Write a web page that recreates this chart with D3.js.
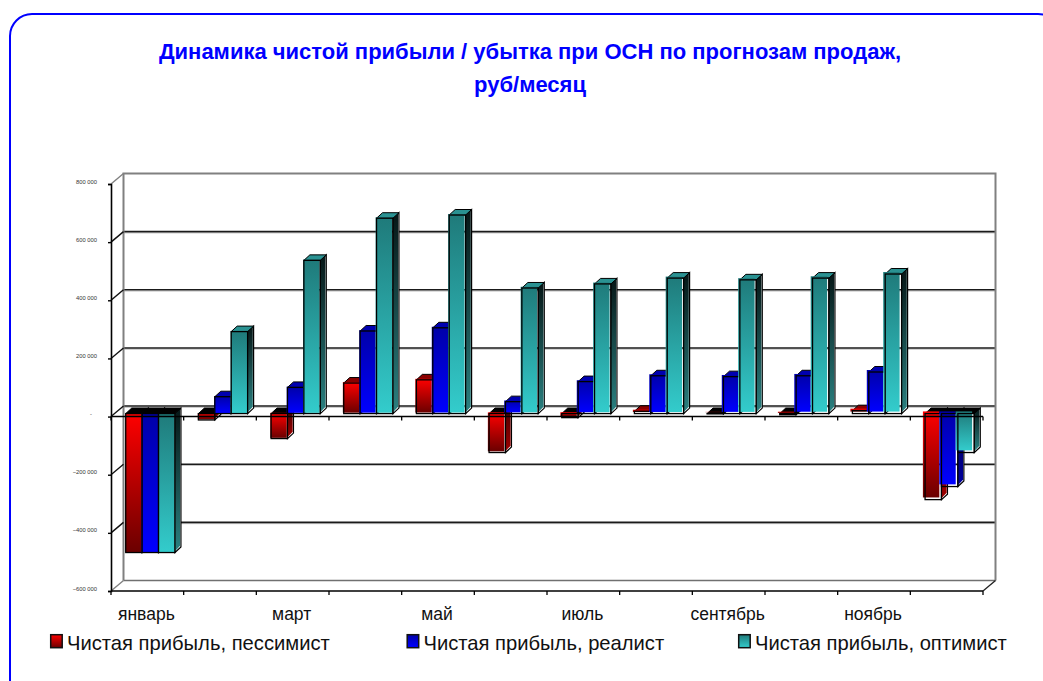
<!DOCTYPE html>
<html lang="ru">
<head>
    <meta charset="UTF-8">
    <title>Динамика чистой прибыли</title>
    <script src="https://cdn.jsdelivr.net/npm/d3@7/dist/d3.min.js"></script>
    <style>
        html, body { margin: 0; padding: 0; background: #fff; overflow: hidden; }
        svg { display: block; }
        text { font-family: "Liberation Sans", Arial, sans-serif; }
    </style>
</head>
<body>
    <div class="chart"></div>
<script>
    const titleLines = ['Динамика чистой прибыли / убытка при ОСН по прогнозам продаж,', 'руб/месяц']
    const months = ['январь', 'февраль', 'март', 'апрель', 'май', 'июнь', 'июль', 'август', 'сентябрь', 'октябрь', 'ноябрь', 'декабрь']
    const shownMonths = ['январь', 'март', 'май', 'июль', 'сентябрь', 'ноябрь']
    const seriesNames = ['Чистая прибыль, пессимист', 'Чистая прибыль, реалист', 'Чистая прибыль, оптимист']
    const pessimist = [-478000, -22000, -86000, 105000, 116000, -134000, -14000, 8000, -1000, -4000, 10000, -296000]
    const realist = [-478000, 58000, 90000, 284000, 295000, 41000, 110000, 130000, 127000, 130000, 143000, -251000]
    const optimist = [-478000, 282000, 527000, 672000, 683000, 432000, 446000, 466000, 460000, 466000, 480000, -134000]
    const yTicks = [-600000, -400000, -200000, 0, 200000, 400000, 600000, 800000]

    const allSeries = [pessimist, realist, optimist]
    const width = 1043
    const height = 681
    const plot = { left: 111, right: 983, top: 184, bottom: 591 }
    const wall = { dx: 12.5, dy: -10.5 }   // back wall offset
    const barShift = { dx: 3, dy: -3 }     // bars stand inside the depth
    const barDepth = { dx: 6, dy: -5.5 }

    const keys = ['s0', 's1', 's2']
    const fills = [
        { front: ['#ff0000', '#6b0000'], side: ['#4a0000', '#a00000'], cap: '#8a0000' },
        { front: ['#0000a8', '#0000ff'], side: ['#00004a', '#0000a0'], cap: '#0000b0' },
        { front: ['#1f7a7a', '#33cccc'], side: ['#061616', '#2a8080'], cap: '#2a9292' }
    ]

    const x = d3.scaleBand().domain(months).range([plot.left, plot.right])
    const xEdge = i => plot.left + i * x.step()
    const xSeries = d3.scaleBand().domain(keys).range([0, x.step()]).paddingInner(0).paddingOuter(0.715)
    const y = d3.scaleLinear().domain([-600000, 800000]).range([plot.bottom, plot.top])

    const svg = d3.select('.chart').append('svg').attr('width', width).attr('height', height)
    const defs = svg.append('defs')

    function addGradient(id, colors) {
        const g = defs.append('linearGradient').attr('id', id)
            .attr('x1', 0).attr('y1', 0).attr('x2', 0).attr('y2', 1)
        g.append('stop').attr('offset', '0%').attr('stop-color', colors[0])
        g.append('stop').attr('offset', '100%').attr('stop-color', colors[1])
    }
    fills.forEach((f, i) => {
        addGradient(`front${i}`, f.front)
        addGradient(`side${i}`, f.side)
    })

    // outer frame, runs off the window on the right and at the bottom
    svg.append('rect')
        .attr('x', 10).attr('y', 14)
        .attr('width', 1050).attr('height', 700)
        .attr('rx', 22).attr('ry', 22)
        .attr('fill', 'none').attr('stroke', '#0000ff').attr('stroke-width', 2)

    svg.selectAll('.title')
        .data(titleLines)
        .enter()
        .append('text')
        .attr('class', 'title')
        .attr('x', 530)
        .attr('y', (d, i) => 59 + i * 33)
        .attr('text-anchor', 'middle')
        .attr('font-size', '22px')
        .attr('font-weight', 'bold')
        .attr('fill', '#0000ff')
        .text(d => d)

    // back wall
    const backLeft = plot.left + wall.dx
    const backRight = plot.right + wall.dx
    const gWall = svg.append('g')
    const barsEnd = xEdge(0) + xSeries('s2') + xSeries.bandwidth() + barShift.dx + barDepth.dx

    const gridTicks = yTicks.filter(v => v > -600000 && v < 800000)
    gWall.selectAll('.grid-shadow')
        .data(gridTicks)
        .enter()
        .append('line')
        .attr('class', 'grid-shadow')
        .attr('x1', d => d < 0 ? barsEnd : backLeft)
        .attr('x2', backRight)
        .attr('y1', d => y(d) + wall.dy + 1.3)
        .attr('y2', d => y(d) + wall.dy + 1.3)
        .attr('stroke', '#c4c4c4')
        .attr('stroke-width', 1)
    gWall.selectAll('.grid')
        .data(gridTicks)
        .enter()
        .append('line')
        .attr('class', 'grid')
        .attr('x1', d => d < 0 ? barsEnd : backLeft)
        .attr('x2', backRight)
        .attr('y1', d => y(d) + wall.dy)
        .attr('y2', d => y(d) + wall.dy)
        .attr('stroke', '#1a1a1a')
        .attr('stroke-width', 1.6)

    gWall.append('path')
        .attr('d', `M${backLeft},${y(-600000) + wall.dy}V${y(800000) + wall.dy}H${backRight}V${y(-600000) + wall.dy}`)
        .attr('fill', 'none').attr('stroke', '#808080').attr('stroke-width', 2)
    gWall.append('line')
        .attr('x1', backLeft).attr('x2', backRight)
        .attr('y1', y(-600000) + wall.dy).attr('y2', y(-600000) + wall.dy)
        .attr('stroke', '#707070').attr('stroke-width', 1.6)

    // left wall diagonals
    svg.selectAll('.diag')
        .data(yTicks)
        .enter()
        .append('line')
        .attr('class', 'diag')
        .attr('x1', plot.left).attr('x2', backLeft)
        .attr('y1', d => y(d)).attr('y2', d => y(d) + wall.dy)
        .attr('stroke', d => (d === 800000 || d === -600000) ? '#808080' : '#111')
        .attr('stroke-width', 1.4)

    // bars
    const gBars = svg.append('g')
    months.forEach((m, mi) => {
        const drift = 0.4 + mi * 0.16    // outline drifts away from the fill to the right
        allSeries.forEach((values, si) => {
            const v = values[mi]
            const bx = x(m) + xSeries(keys[si]) + barShift.dx
            const bw = xSeries.bandwidth()
            const top = Math.min(y(v), y(0)) + barShift.dy
            const bottom = Math.max(y(v), y(0)) + barShift.dy
            const ddx = barDepth.dx
            const ddy = barDepth.dy
            const g = gBars.append('g')
            const f = fills[si]

            // side, a thin white sliver shows between outline and fill
            g.append('polygon')
                .attr('points', [[bx + bw, top], [bx + bw + ddx, top + ddy], [bx + bw + ddx, bottom + ddy], [bx + bw, bottom]].map(p => p.join(',')).join(' '))
                .attr('fill', '#fff').attr('stroke', '#000').attr('stroke-width', 1.2)
            g.append('polygon')
                .attr('points', [[bx + bw, top], [bx + bw + ddx - 0.8, top + ddy], [bx + bw + ddx - 0.8, bottom + ddy - 1.4], [bx + bw, bottom - 1.4]].map(p => p.join(',')).join(' '))
                .attr('fill', `url(#side${si})`)

            // cap, seen as black on the loss bars
            g.append('polygon')
                .attr('points', [[bx, top], [bx + ddx, top + ddy], [bx + bw + ddx, top + ddy], [bx + bw, top]].map(p => p.join(',')).join(' '))
                .attr('fill', v < 0 ? '#000' : f.cap)
                .attr('stroke', '#000')
                .attr('stroke-width', 1)

            // front
            g.append('rect')
                .attr('x', bx - drift).attr('y', top - drift)
                .attr('width', bw).attr('height', bottom - top)
                .attr('fill', `url(#front${si})`)
            g.append('rect')
                .attr('x', bx).attr('y', top)
                .attr('width', bw).attr('height', bottom - top)
                .attr('fill', 'none').attr('stroke', '#000').attr('stroke-width', 1.3)
        })
    })

    // front axes
    const yAxis = d3.axisLeft(y)
        .tickValues(yTicks)
        .tickSize(3)
        .tickFormat(d => d === 0 ? '-' : d3.format(',')(d).replace(/,/g, ' '))
    const gY = svg.append('g').attr('transform', `translate(${plot.left}, 0)`).call(yAxis)
    gY.select('.domain').attr('stroke', '#000').attr('stroke-width', 1.6)
    gY.selectAll('.tick line').attr('stroke', '#000').attr('stroke-width', 1.4)
    gY.selectAll('.tick text')
        .attr('x', d => d === 0 ? -19 : -14)
        .attr('dy', -1)
        .attr('font-size', '5.8px')
        .attr('font-family', '"Liberation Sans", Arial, sans-serif')
        .attr('fill', '#333')

    const edges = d3.range(months.length + 1)
    ;[0, -600000].forEach(level => {
        const gx = svg.append('g')
        gx.append('line')
            .attr('x1', plot.left).attr('x2', plot.right)
            .attr('y1', y(level)).attr('y2', y(level))
            .attr('stroke', '#000').attr('stroke-width', 1.6)
        gx.selectAll('line.tick')
            .data(edges)
            .enter()
            .append('line')
            .attr('class', 'tick')
            .attr('x1', d => xEdge(d)).attr('x2', d => xEdge(d))
            .attr('y1', y(level)).attr('y2', y(level) + 4)
            .attr('stroke', '#000').attr('stroke-width', 1.3)
    })
    svg.append('line')
        .attr('x1', plot.right).attr('x2', backRight)
        .attr('y1', y(-600000)).attr('y2', y(-600000) + wall.dy)
        .attr('stroke', '#222').attr('stroke-width', 1.3)

    // month labels, every second one
    const xAxis = d3.axisBottom(x).tickValues(shownMonths).tickSize(0)
    const gX = svg.append('g').attr('transform', `translate(-1, ${plot.bottom})`).call(xAxis)
    gX.select('.domain').remove()
    gX.selectAll('.tick text')
        .attr('y', 29)
        .attr('dy', 0)
        .attr('font-size', '17.5px')
        .attr('font-family', '"Liberation Sans", Arial, sans-serif')
        .attr('fill', '#111')

    // legend
    const legendX = d3.scaleOrdinal().domain(keys).range([50, 406.5, 738])
    const gLegend = svg.selectAll('.legend')
        .data(seriesNames)
        .enter()
        .append('g')
        .attr('class', 'legend')
        .attr('transform', (d, i) => `translate(${legendX(keys[i])}, 634)`)
    gLegend.append('rect')
        .attr('x', 0.7).attr('y', 0.7)
        .attr('width', 11.5).attr('height', 13)
        .attr('fill', (d, i) => `url(#front${i})`)
        .attr('stroke', '#111').attr('stroke-width', 1.5)
    gLegend.append('text')
        .attr('x', 17)
        .attr('y', 16)
        .attr('font-size', '20.2px')
        .attr('fill', '#111')
        .text(d => d)
</script>
</body>
</html>
